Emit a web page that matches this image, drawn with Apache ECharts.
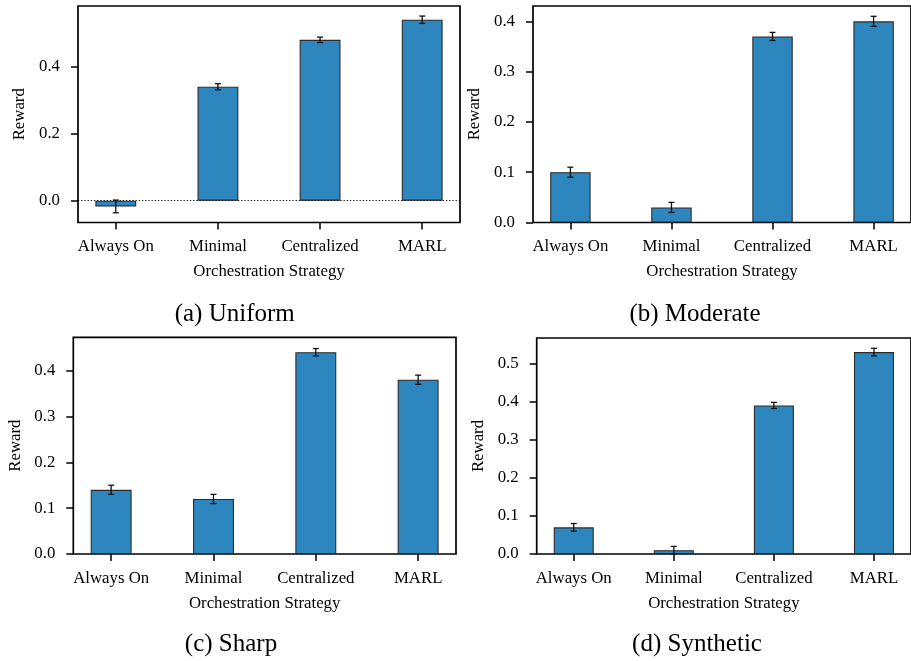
<!DOCTYPE html>
<html>
<head>
<meta charset="utf-8">
<script src="https://cdn.jsdelivr.net/npm/echarts@6/dist/echarts.min.js"></script>
<style>
html,body{margin:0;padding:0;background:#fff;}
#c{width:911px;height:661px;}
</style>
</head>
<body>
<div id="c"></div>
<script>
// ---- data ----
const categories = ['Always On', 'Minimal', 'Centralized', 'MARL'];
const uniformMean = [-0.017, 0.34, 0.48, 0.54];
const uniformErr = [0.019, 0.009, 0.008, 0.011];
const moderateMean = [0.10, 0.03, 0.37, 0.40];
const moderateErr = [0.01, 0.01, 0.008, 0.01];
const sharpMean = [0.14, 0.12, 0.44, 0.38];
const sharpErr = [0.01, 0.01, 0.008, 0.01];
const syntheticMean = [0.07, 0.01, 0.39, 0.53];
const syntheticErr = [0.01, 0.01, 0.008, 0.01];
const uniformTicks = [0.0, 0.2, 0.4];
const moderateTicks = [0.0, 0.1, 0.2, 0.3, 0.4];
const sharpTicks = [0.0, 0.1, 0.2, 0.3, 0.4];
const syntheticTicks = [0.0, 0.1, 0.2, 0.3, 0.4, 0.5];
const panelTitles = ['(a) Uniform', '(b) Moderate', '(c) Sharp', '(d) Synthetic'];
const xTitle = 'Orchestration Strategy';
const yTitle = 'Reward';

// ---- layout / style ----
const FONT = '"Liberation Serif", "Times New Roman", "DejaVu Serif", serif';
const BAR = '#2e86bf';
const panels = [
  {mean: uniformMean, err: uniformErr, ticks: uniformTicks, ymin: -0.065, ymax: 0.581,
   grid: {left: 78, top: 6, width: 382, height: 216.5}, zeroLine: true, title: [234.7, 314]},
  {mean: moderateMean, err: moderateErr, ticks: moderateTicks, ymin: 0, ymax: 0.4305,
   grid: {left: 533, top: 6, width: 382, height: 216.5}, zeroLine: false, title: [695, 314]},
  {mean: sharpMean, err: sharpErr, ticks: sharpTicks, ymin: 0, ymax: 0.4725,
   grid: {left: 73.3, top: 337.3, width: 382.7, height: 216.7}, zeroLine: false, title: [231, 644]},
  {mean: syntheticMean, err: syntheticErr, ticks: syntheticTicks, ymin: 0, ymax: 0.567,
   grid: {left: 536.7, top: 338, width: 382.6, height: 216}, zeroLine: false, title: [697, 644]}
];

const catIdx = categories.map((c, i) => i);
const grids = [], xAxes = [], yAxes = [], series = [], graphics = [];

panels.forEach((p, k) => {
  grids.push(Object.assign({show: true, borderColor: '#000', borderWidth: 1.7, backgroundColor: 'transparent', containLabel: false}, p.grid));
  xAxes.push({
    type: 'value', gridIndex: k, min: -0.37, max: 3.37, position: 'bottom',
    axisLine: {show: false, onZero: false},
    splitLine: {show: false},
    axisTick: {show: true, inside: false, length: 7, lineStyle: {color: '#000', width: 1.5}, customValues: catIdx},
    axisLabel: {show: true, customValues: catIdx, margin: 16, color: '#000', fontFamily: FONT, fontSize: 16.8,
      formatter: v => categories[Math.round(v)]},
    name: xTitle, nameLocation: 'middle', nameGap: 41,
    nameTextStyle: {color: '#000', fontFamily: FONT, fontSize: 16.8}
  });
  yAxes.push({
    type: 'value', gridIndex: k, min: p.ymin, max: p.ymax, position: 'left',
    axisLine: {show: false, onZero: false},
    splitLine: {show: false},
    axisTick: {show: true, inside: false, length: 7, lineStyle: {color: '#000', width: 1.5}, customValues: p.ticks},
    axisLabel: {show: true, customValues: p.ticks, margin: 18, color: '#000', fontFamily: FONT, fontSize: 16.8,
      formatter: v => v.toFixed(1)},
    name: yTitle, nameLocation: 'middle', nameGap: 49.5,
    nameTextStyle: {color: '#000', fontFamily: FONT, fontSize: 16.8}
  });
  const bar = {
    type: 'bar', xAxisIndex: k, yAxisIndex: k,
    barWidth: '40%',
    data: p.mean.map((v, i) => [i, v]),
    itemStyle: {color: BAR, borderColor: '#2b2b2b', borderWidth: 1.1},
    emphasis: {disabled: true},
    z: 2
  };
  if (p.zeroLine) {
    bar.markLine = {
      silent: true, symbol: ['none', 'none'], label: {show: false},
      lineStyle: {color: '#000', width: 1, type: [1.2, 2]},
      data: [{yAxis: 0}],
      animation: false
    };
  }
  series.push(bar);
  series.push({
    type: 'custom', xAxisIndex: k, yAxisIndex: k, z: 5,
    data: p.mean.map((v, i) => [i, v, p.err[i]]),
    renderItem: (params, api) => {
      const x = api.value(0), m = api.value(1), e = api.value(2);
      const lo = api.coord([x, m - e]);
      const hi = api.coord([x, m + e]);
      const cw = 3;
      const style = {stroke: '#111', lineWidth: 1.3};
      return {
        type: 'group',
        children: [
          {type: 'line', shape: {x1: lo[0], y1: lo[1], x2: hi[0], y2: hi[1]}, style},
          {type: 'line', shape: {x1: lo[0] - cw, y1: lo[1], x2: lo[0] + cw, y2: lo[1]}, style},
          {type: 'line', shape: {x1: hi[0] - cw, y1: hi[1], x2: hi[0] + cw, y2: hi[1]}, style}
        ]
      };
    }
  });
  graphics.push({
    type: 'text', x: p.title[0], y: p.title[1],
    style: {text: panelTitles[k], fill: '#000', font: '25px ' + FONT, align: 'center', verticalAlign: 'middle'}
  });
});

const chart = echarts.init(document.getElementById('c'), null, {renderer: 'canvas'});
chart.setOption({
  animation: false,
  backgroundColor: '#fff',
  grid: grids,
  xAxis: xAxes,
  yAxis: yAxes,
  series: series,
  graphic: graphics
});
</script>
</body>
</html>
